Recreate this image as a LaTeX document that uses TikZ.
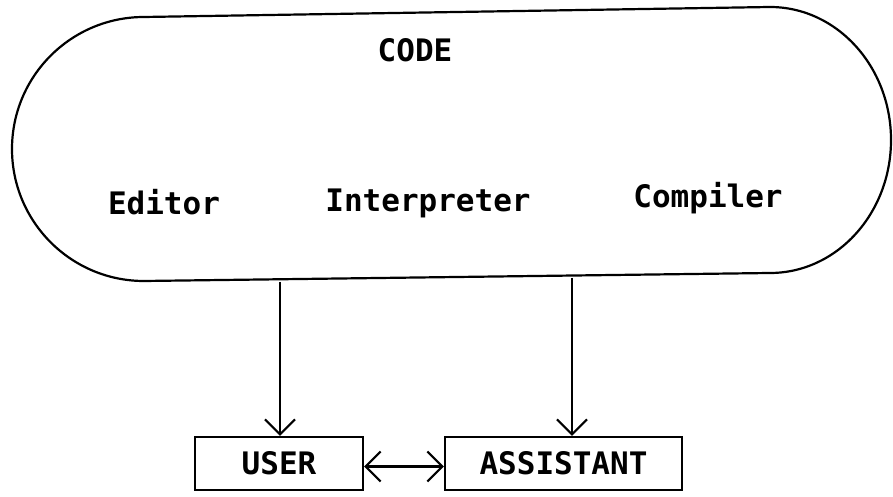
\documentclass[tikz,border=0pt]{standalone}
\usepackage{fontspec}
\setmonofont{DejaVu Sans Mono}
\usetikzlibrary{arrows.meta}

\tikzset{
  lbl/.style={font=\ttfamily\bfseries\fontsize{31}{36}\selectfont, inner sep=0pt, anchor=base},
  boxnode/.style={draw, line width=2.2pt, font=\ttfamily\bfseries\fontsize{31}{36}\selectfont,
    minimum height=53pt, inner sep=0pt},
  barb/.tip={Straight Barb[length=15pt, width=30pt, line width=2.2pt]},
  flow/.style={line width=2.2pt, -barb},
  both/.style={line width=2.2pt, barb-barb}
}

\begin{document}
\begin{tikzpicture}[x=1pt, y=1pt]
  \useasboundingbox (0,0) rectangle (893,497);

  % rounded outline of the code environment
  \draw[line width=2.2pt]
    (144,480) -- (770,490)
    arc[start angle=90, end angle=-90, x radius=121pt, y radius=133pt]
    -- (144,216)
    arc[start angle=270, end angle=90, radius=132pt]
    -- cycle;

  \node[lbl] (code) at (415,435) {CODE};
  \node[lbl] (editor) at (164,282) {Editor};
  \node[lbl] (interp) at (428,285) {Interpreter};
  \node[lbl] (compiler) at (708,289) {Compiler};

  % attachment points on the lower edge of the outline
  \coordinate (outA) at (280,215);
  \coordinate (outB) at (572,219);

  \node[boxnode, minimum width=168pt] (user) at (279,33.5) {USER};
  \node[boxnode, minimum width=237pt] (asst) at (563.5,33.5) {ASSISTANT};

  \draw[flow] (outA) -- (outA |- user.north);
  \draw[flow] (outB) -- (outB |- asst.north);
  \draw[both] ([yshift=-3pt]user.east) -- ([yshift=-3pt]asst.west);
\end{tikzpicture}
\end{document}
